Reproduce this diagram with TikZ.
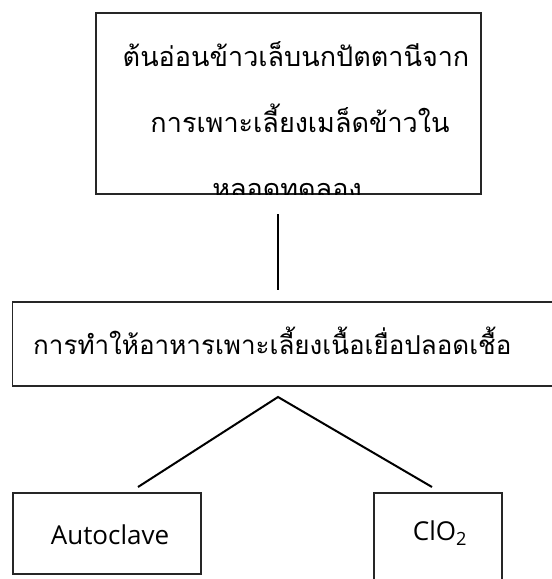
\documentclass[tikz,border=0pt]{standalone}
\usepackage{fontspec}
\newfontfamily\thaifont[Script=Thai]{Loma}
\newfontfamily\latinfont{Open Sans}
\begin{document}
\begin{tikzpicture}[x=1pt,y=-1pt,
  box/.style={draw=black!85,line width=1.3pt,inner sep=0pt,outer sep=0pt},
  link/.style={draw=black,line width=2pt},
  thaitext/.style={inner sep=0pt,font=\thaifont\fontsize{27}{27}\selectfont},
  latin/.style={inner sep=0pt,font=\latinfont\fontsize{26}{26}\selectfont}]
\useasboundingbox (0,0) rectangle (552,579);
\clip (0,0) rectangle (552,579);
% top box
\node[box,minimum width=385pt,minimum height=181pt] (top) at (288.5,103.5) {};
\node[thaitext] (t1) at (296,54) {ต้นอ่อนข้าวเล็บนกปัตตานีจาก};
\node[thaitext] (t2) at (300,118) {การเพาะเลี้ยงเมล็ดข้าวใน};
\begin{scope}
\clip (96,12) rectangle (481,194);
\node[thaitext] (t3) at (287,191) {หลอดทดลอง};
\end{scope}
% middle box
\node[box,minimum width=560pt,minimum height=84pt] (mid) at (292.7,344) {};
\node[thaitext,anchor=west,font=\thaifont\fontsize{26}{26}\selectfont] (m1) at (33,341) {การทำให้อาหารเพาะเลี้ยงเนื้อเยื่อปลอดเชื้อ};
% bottom boxes
\node[box,minimum width=188pt,minimum height=81pt] (auto) at (107,533.5) {};
\node[latin] (autot) at (110,535) {Autoclave};
\node[box,minimum width=128pt,minimum height=110pt] (clo) at (438,548) {};
\node[latin] (clot) at (440,533) {ClO\textsubscript{2}};
% connectors
\coordinate (v1) at (278,214);
\coordinate (v2) at (278,290);
\coordinate (apex) at (278,397);
\coordinate (dl) at (138,487);
\coordinate (dr) at (432,487);
\draw[link,line width=2.6pt] (v1) -- (v2);
\draw[link] (dl) -- (apex) -- (dr);
\end{tikzpicture}
\end{document}
